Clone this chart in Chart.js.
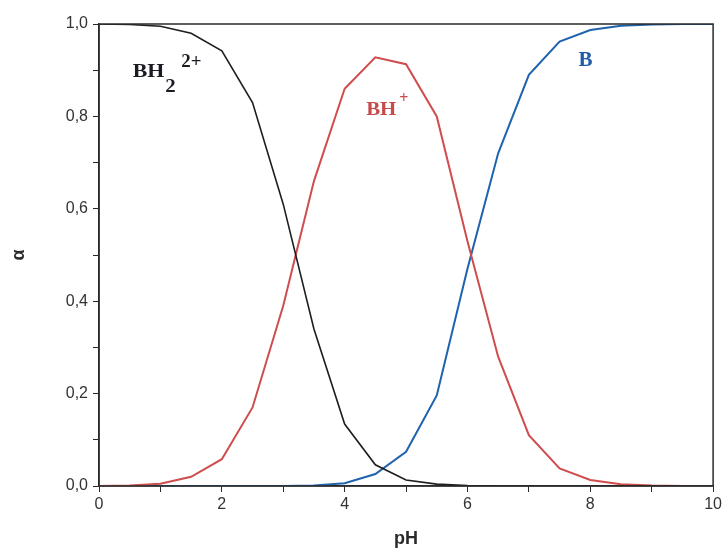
<!DOCTYPE html>
<html lang="pt-BR">
<head>
  <meta charset="UTF-8">
  <title>Frações de espécies vs pH</title>
  <script src="https://cdn.jsdelivr.net/npm/chart.js"></script>
  <style>
    html, body { margin: 0; padding: 0; background: #fff; }
    #wrap { width: 725px; height: 554px; }
  </style>
</head>
<body>
  <div id="wrap"><canvas id="alfaChart" width="725" height="554"></canvas></div>

  <script>
    // pH de 0 a 10, passo 0,5
    const ph = [0, 0.5, 1, 1.5, 2, 2.5, 3, 3.5, 4, 4.5, 5, 5.5, 6, 6.5, 7, 7.5, 8, 8.5, 9, 9.5, 10];

    // frações molares (alfa) de cada espécie
    const alfaBH2 = [1.0, 0.999, 0.995, 0.98, 0.942, 0.83, 0.61, 0.34, 0.134, 0.046, 0.013, 0.004, 0.001, 0, 0, 0, 0, 0, 0, 0, 0];
    const alfaBH  = [0, 0.001, 0.005, 0.02, 0.058, 0.17, 0.39, 0.66, 0.86, 0.928, 0.913, 0.80, 0.53, 0.28, 0.11, 0.038, 0.013, 0.004, 0.001, 0, 0];
    const alfaB   = [0, 0, 0, 0, 0, 0, 0, 0.001, 0.006, 0.026, 0.074, 0.196, 0.47, 0.72, 0.89, 0.962, 0.987, 0.996, 0.999, 1.0, 1.0];

    const xTicks = [0, 2, 4, 6, 8, 10];

    function pontos(ys) {
      return ph.map((x, i) => ({ x: x, y: ys[i] }));
    }

    // moldura em volta da área do gráfico
    const moldura = {
      id: 'moldura',
      afterDraw(chart) {
        const { ctx, chartArea: a } = chart;
        ctx.save();
        ctx.strokeStyle = '#2a2a2a';
        ctx.lineWidth = 1.5;
        ctx.strokeRect(a.left, a.top, a.right - a.left, a.bottom - a.top);
        ctx.restore();
      }
    };

    // texto um pouco alargado, como nos rótulos originais
    function texto(ctx, s, px, py, esticar) {
      ctx.save();
      ctx.translate(px, py);
      ctx.scale(esticar, 1);
      ctx.fillText(s, 0, 0);
      const w = ctx.measureText(s).width * esticar;
      ctx.restore();
      return w;
    }

    // rótulos das espécies, posicionados em coordenadas (pH, alfa)
    const rotulos = {
      id: 'rotulos',
      afterDatasetsDraw(chart) {
        const { ctx, scales: { x, y } } = chart;
        ctx.save();
        ctx.textBaseline = 'alphabetic';
        ctx.textAlign = 'left';
        const serif = '"Liberation Serif", "DejaVu Serif", serif';

        // BH2 2+
        let px = x.getPixelForValue(0.55), py = y.getPixelForValue(0.885);
        ctx.fillStyle = '#1b1b24';
        ctx.font = 'bold 19px ' + serif;
        let w = texto(ctx, 'BH', px, py, 1.15);
        texto(ctx, '2', px + w + 1, py + 15, 1.1);
        ctx.font = 'bold 18px ' + serif;
        texto(ctx, '2+', px + w + 17, py - 10, 1.05);

        // BH+
        px = x.getPixelForValue(4.35); py = y.getPixelForValue(0.803);
        ctx.fillStyle = '#c84a4a';
        ctx.font = 'bold 19px ' + serif;
        w = texto(ctx, 'BH', px, py, 1.1);
        ctx.font = 'bold 16px ' + serif;
        texto(ctx, '+', px + w + 3, py - 12, 1);

        // B
        px = x.getPixelForValue(7.81); py = y.getPixelForValue(0.909);
        ctx.fillStyle = '#1f5da6';
        ctx.font = 'bold 21px ' + serif;
        texto(ctx, 'B', px, py, 1);
        ctx.restore();
      }
    };

    const sans = 'Liberation Sans, Arial, sans-serif';

    const ctx = document.getElementById('alfaChart').getContext('2d');
    new Chart(ctx, {
      type: 'scatter',
      data: {
        datasets: [
          { label: 'BH2 2+', data: pontos(alfaBH2), borderColor: '#1e1e1e', borderWidth: 1.6 },
          { label: 'BH+', data: pontos(alfaBH), borderColor: '#cf4d4d', borderWidth: 2 },
          { label: 'B', data: pontos(alfaB), borderColor: '#1f62ad', borderWidth: 2 }
        ].map(d => Object.assign(d, { showLine: true, pointRadius: 0, fill: false, tension: 0 }))
      },
      options: {
        responsive: false,
        animation: false,
        layout: { padding: { left: 0, right: 10, top: 24, bottom: 0 } },
        plugins: {
          legend: { display: false },
          tooltip: { enabled: false }
        },
        scales: {
          x: {
            type: 'linear',
            min: 0, max: 10,
            afterFit(scale) { scale.height = 68; },
            ticks: {
              stepSize: 1,
              autoSkip: false,
              maxRotation: 0,
              color: '#333',
              font: { family: sans, size: 16 },
              padding: 3,
              callback: v => (xTicks.includes(v) ? String(v) : '')
            },
            grid: { drawOnChartArea: false, drawTicks: true, tickLength: 6, color: '#2a2a2a' },
            border: { display: true, color: '#2a2a2a', width: 1.5 },
            title: {
              display: true,
              text: 'pH',
              color: '#2a2a2a',
              font: { family: sans, size: 18, weight: 'bold' },
              padding: { top: 5 }
            }
          },
          y: {
            min: 0, max: 1,
            afterFit(scale) { scale.width = 99; },
            ticks: {
              stepSize: 0.1,
              autoSkip: false,
              color: '#333',
              font: { family: sans, size: 16 },
              padding: 5,
              callback: v => {
                const k = Math.round(v * 10);
                return k % 2 === 0 ? (k / 10).toFixed(1).replace('.', ',') : '';
              }
            },
            grid: { drawOnChartArea: false, drawTicks: true, tickLength: 6, color: '#2a2a2a' },
            border: { display: true, color: '#2a2a2a', width: 1.5 },
            title: {
              display: true,
              text: 'α',
              color: '#2a2a2a',
              font: { family: sans, size: 18, weight: 'bold' },
              padding: { top: 8, bottom: 2 }
            }
          }
        }
      },
      plugins: [moldura, rotulos]
    });
  </script>
</body>
</html>
